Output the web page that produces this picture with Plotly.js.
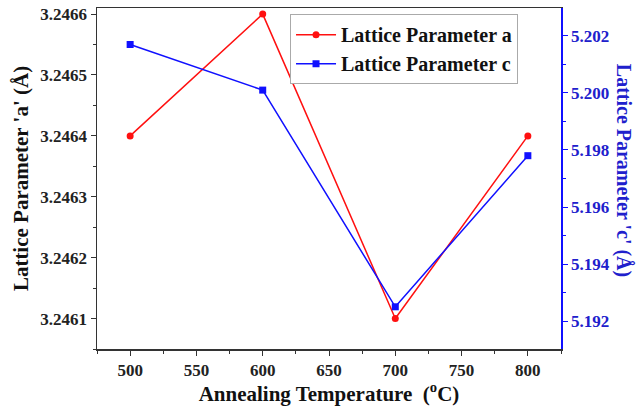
<!DOCTYPE html>
<html>
<head>
<meta charset="utf-8">
<script src="https://cdn.plot.ly/plotly-3.0.1.min.js"></script>
<style>html,body{margin:0;padding:0;background:#fff}#chart{width:637px;height:406px}</style>
</head>
<body>
<div id="chart"></div>
<script>
var temperatures = [500, 600, 700, 800];
var latticeA = [3.2464, 3.2466, 3.2461, 3.2464];
var latticeC = [5.2017, 5.2001, 5.1925, 5.1978];
var seriesNames = ["Lattice Parameter a", "Lattice Parameter c"];

var FONT = "Liberation Serif, Times New Roman, serif";
var BLUE = "#1010ff";
var RED = "#ff1010";

var traces = [
  {x: temperatures, y: latticeA, name: seriesNames[0], type: "scatter", mode: "lines+markers",
   line: {color: RED, width: 1.5}, marker: {color: RED, symbol: "circle", size: 7}, yaxis: "y"},
  {x: temperatures, y: latticeC, name: seriesNames[1], type: "scatter", mode: "lines+markers",
   line: {color: BLUE, width: 1.5}, marker: {color: BLUE, symbol: "square", size: 7}, yaxis: "y2"}
];

var layout = {
  width: 637, height: 406,
  margin: {l: 97, r: 76, t: 8, b: 57},
  paper_bgcolor: "#fff", plot_bgcolor: "#fff",
  font: {family: FONT, color: "#222", size: 16, weight: "bold"},
  showlegend: true,
  legend: {x: 0.416, y: 0.982, xanchor: "left", yanchor: "top",
           bordercolor: "#aaa", borderwidth: 1, bgcolor: "#fff",
           font: {family: FONT, size: 20, color: "#111", weight: "bold"},
           tracegroupgap: 0, itemwidth: 40},
  xaxis: {range: [475, 825], dtick: 50, tick0: 500, showgrid: false, zeroline: false,
          showline: true, linecolor: "#333", linewidth: 1.5, mirror: true,
          ticks: "outside", ticklen: 5, tickcolor: "#333",
          minor: {dtick: 25, ticks: "outside", ticklen: 3, tickcolor: "#333", showgrid: false},
          tickfont: {family: FONT, size: 17, color: "#222", weight: "bold"},
          title: {text: "Annealing Temperature  (<sup>o</sup>C)", standoff: 2,
                  font: {family: FONT, size: 21, color: "#111", weight: "bold"}}},
  yaxis: {range: [3.24605, 3.24661], dtick: 0.0001, tick0: 3.2461, showgrid: false, zeroline: false,
          showline: true, linecolor: "#333", linewidth: 1.5,
          ticks: "outside", ticklen: 5, tickcolor: "#333", tickformat: ".4f",
          minor: {dtick: 0.00005, ticks: "outside", ticklen: 3, tickcolor: "#333", showgrid: false},
          tickfont: {family: FONT, size: 17, color: "#222", weight: "bold"},
          title: {text: "Lattice Parameter 'a' (Å)", standoff: 6,
                  font: {family: FONT, size: 21, color: "#111", weight: "bold"}}},
  yaxis2: {overlaying: "y", side: "right", range: [5.19102, 5.20298], dtick: 0.002, tick0: 5.192,
           showgrid: false, zeroline: false,
           showline: true, linecolor: BLUE, linewidth: 1.5,
           ticks: "outside", ticklen: 5, tickcolor: BLUE, tickformat: ".3f",
           minor: {dtick: 0.001, ticks: "outside", ticklen: 3, tickcolor: BLUE, showgrid: false},
           tickfont: {family: FONT, size: 17, color: "#2020cc", weight: "bold"}},
  annotations: [{text: "Lattice Parameter 'c' (Å)", xref: "paper", yref: "paper",
                 x: 1.134, y: 0.525, xanchor: "center", yanchor: "middle", textangle: 90,
                 showarrow: false, font: {family: FONT, size: 20, color: "#2020cc", weight: "bold"}}]
};

Plotly.newPlot("chart", traces, layout, {displayModeBar: false, staticPlot: true});
</script>
</body>
</html>
